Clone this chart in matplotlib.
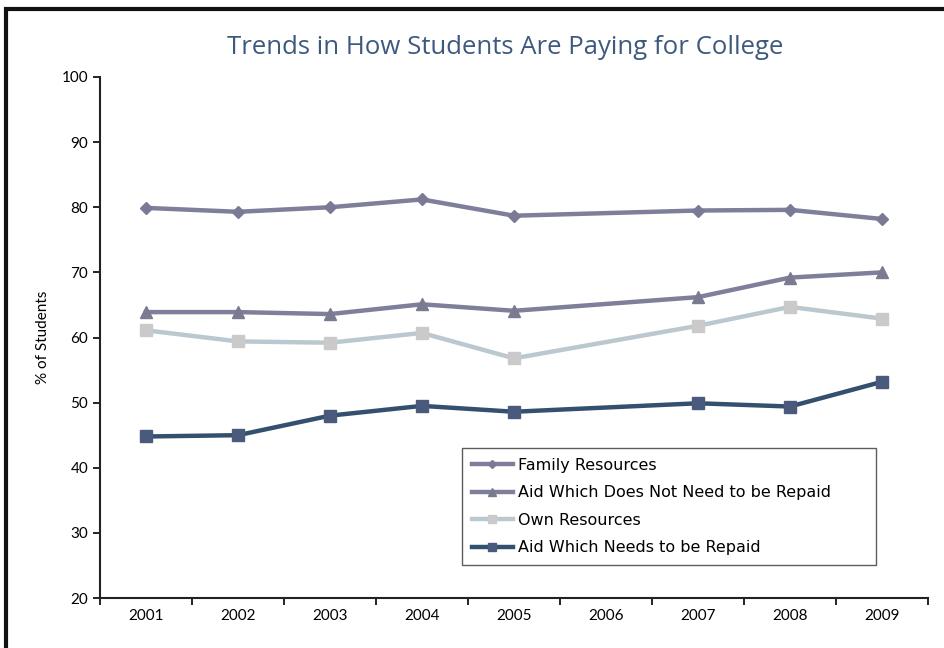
import numpy as np
import matplotlib
matplotlib.use("Agg")
import matplotlib.pyplot as plt
from matplotlib.patches import Rectangle

years = ["2001", "2002", "2003", "2004", "2005", "2006", "2007", "2008", "2009"]
family = [79.9, 79.3, 80.0, 81.2, 78.7, np.nan, 79.5, 79.6, 78.2]
aid_not_repaid = [63.9, 63.9, 63.6, 65.1, 64.1, np.nan, 66.2, 69.2, 70.0]
own = [61.1, 59.4, 59.2, 60.7, 56.8, np.nan, 61.8, 64.7, 62.9]
aid_repaid = [44.8, 45.0, 48.0, 49.5, 48.6, np.nan, 49.9, 49.4, 53.2]
series_names = ["Family Resources", "Aid Which Does Not Need to be Repaid",
                "Own Resources", "Aid Which Needs to be Repaid"]

plt.rcParams['font.family'] = ['Lato', 'DejaVu Sans']

fig = plt.figure(figsize=(9.45, 6.48), dpi=100)
ax = fig.add_axes([100/945, 50/648, 828/945, 521/648])

x = np.arange(len(years))
styles = [
    dict(color="#7f7f9b", marker="D", ms=6, mfc="#7a7a96", mec="#7a7a96"),
    dict(color="#7f7f9b", marker="^", ms=8, mfc="#7a7a90", mec="#7a7a90"),
    dict(color="#bcc8cf", marker="s", ms=8, mfc="#cacaca", mec="#cacaca"),
    dict(color="#34506f", marker="s", ms=8, mfc="#4a5a7c", mec="#4a5a7c"),
]
for vals, name, st in zip([family, aid_not_repaid, own, aid_repaid], series_names, styles):
    v = np.array(vals, dtype=float)
    m = ~np.isnan(v)
    ax.plot(x[m], v[m], lw=3.2, label=name, **st)

ax.set_xlim(-0.5, len(years) - 0.5)
ax.set_ylim(20, 100)
ax.set_yticks(np.arange(20, 101, 10))
ax.set_xticks(x)
ax.set_xticklabels(years, fontsize=11)
ax.set_xticks(np.arange(-0.5, len(years) + 0.5, 1), minor=True)
ax.tick_params(axis='x', which='major', length=0, pad=8)
ax.tick_params(axis='x', which='minor', length=5, width=1.2, direction='out')
ax.tick_params(axis='y', length=5, width=1.2, direction='out', labelsize=11)
for s in ['top', 'right']:
    ax.spines[s].set_visible(False)
for s in ['left', 'bottom']:
    ax.spines[s].set_linewidth(1.5)
    ax.spines[s].set_color('#222222')
ax.set_ylabel("% of Students", fontsize=11, labelpad=8)

leg = ax.legend(loc='lower left', bbox_to_anchor=(362/828, 33/521, 414/828, 119/521),
                mode='expand', prop={'family': ['DejaVu Sans'], 'size': 11.5},
                frameon=True, fancybox=False, markerscale=0.75,
                handlelength=2.6, borderaxespad=0, labelspacing=0.78,
                borderpad=0.6, handletextpad=0.3)
leg.get_frame().set_edgecolor('#333333')
leg.get_frame().set_linewidth(1.0)

fig.text(505/945, 1 - 48/648, "Trends in How Students Are Paying for College",
         ha='center', va='center', fontsize=18.5, color='#3d5a7e',
         family=['Open Sans', 'DejaVu Sans'])

fig.patches.append(Rectangle((6/945, -0.1), 1.2, 1 - 9/648 + 0.1, transform=fig.transFigure,
                             fill=False, edgecolor='#111111', linewidth=3, figure=fig))

fig.savefig("out.png", dpi=100)
